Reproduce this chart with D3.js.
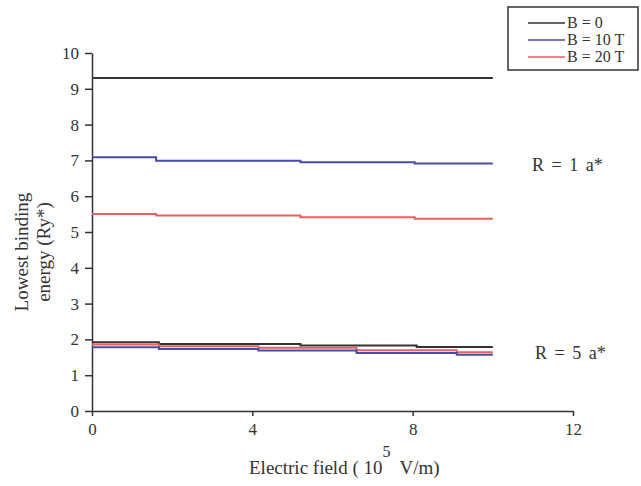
<!DOCTYPE html>
<html>
<head>
<meta charset="utf-8">
<script src="https://cdn.jsdelivr.net/npm/d3@7"></script>
<style>
  body { margin: 0; background: #fff; }
  text { font-family: "Liberation Serif", "Times New Roman", serif; fill: #333; }
</style>
</head>
<body>
<div id="chart"></div>
<script>
// Datos
const xTicks = [0, 4, 8, 12]
const yTicks = [0, 1, 2, 3, 4, 5, 6, 7, 8, 9, 10]

// R = 1 a*
const xR1Black = [0, 10]
const yR1Black = [9.3, 9.3]
const xR1 = [0, 1.6, 5.2, 8.05, 10]
const yR1Blue = [7.09, 6.99, 6.95, 6.91, 6.91]
const yR1Red = [5.50, 5.46, 5.41, 5.37, 5.37]

// R = 5 a*
const xR5Black = [0, 1.67, 5.2, 8.1, 10]
const yR5Black = [1.92, 1.87, 1.83, 1.79, 1.79]
const xR5 = [0, 1.67, 4.15, 6.6, 9.1, 10]
const yR5Red = [1.86, 1.81, 1.77, 1.70, 1.64, 1.64]
const yR5Blue = [1.78, 1.73, 1.69, 1.62, 1.57, 1.57]

const legendLabels = ["B = 0", "B = 10 T", "B = 20 T"]
const colors = ["#333333", "#4b4ba6", "#e26262"]

// Constantes
const width = 641
const height = 486
const margins = { top: 53, bottom: 75, left: 92, right: 68 }

const svg = d3.select("#chart").append("svg").attr("width", width).attr("height", height)

const x = d3.scaleLinear().domain([0, 12]).range([margins.left, width - margins.right])
const y = d3.scaleLinear().domain([0, 10]).range([height - margins.bottom, margins.top])

// Ejes
const xAxis = d3.axisBottom(x).tickValues(xTicks).tickSize(5).tickSizeOuter(0).tickPadding(7)
const yAxis = d3.axisLeft(y).tickValues(yTicks).tickSize(7).tickSizeOuter(0).tickPadding(6)

const gx = svg.append("g").attr("transform", `translate(0,${y(0)})`).call(xAxis)
const gy = svg.append("g").attr("transform", `translate(${x(0)},0)`).call(yAxis)

for (const g of [gx, gy]) {
    g.attr("font-family", null)
    g.selectAll("path, line").attr("stroke", "#333").attr("stroke-width", 1.5)
    g.selectAll("text").attr("font-size", 17).attr("fill", "#333")
}

// Series
const series = [
    { xs: xR1Black, ys: yR1Black, c: colors[0] },
    { xs: xR1, ys: yR1Blue, c: colors[1] },
    { xs: xR1, ys: yR1Red, c: colors[2] },
    { xs: xR5Black, ys: yR5Black, c: colors[0] },
    { xs: xR5, ys: yR5Red, c: colors[2] },
    { xs: xR5, ys: yR5Blue, c: colors[1] }
]

const line = d3.line().x(d => x(d[0])).y(d => y(d[1])).curve(d3.curveStepAfter)

series.forEach(s => {
    svg.append("path")
        .datum(s.xs.map((v, i) => [v, s.ys[i]]))
        .attr("d", line)
        .attr("fill", "none")
        .attr("stroke", s.c)
        .attr("stroke-width", 2)
})

// Anotaciones
svg.append("text").attr("x", 532).attr("y", 171).attr("font-size", 18)
    .attr("word-spacing", 3).text("R = 1 a*")
svg.append("text").attr("x", 535).attr("y", 359).attr("font-size", 18)
    .attr("word-spacing", 3).text("R = 5 a*")

// Titulos de ejes
const yTitle = svg.append("text")
    .attr("transform", `translate(28,252) rotate(-90)`)
    .attr("text-anchor", "middle")
    .attr("font-size", 19)
yTitle.append("tspan").attr("x", 0).attr("dy", 0).text("Lowest binding")
yTitle.append("tspan").attr("x", 0).attr("dy", 22).text("energy (Ry*)")

const xTitle = svg.append("text").attr("x", 249).attr("y", 474).attr("font-size", 19)
xTitle.append("tspan").text("Electric field ( 10")
xTitle.append("tspan").attr("dy", -17).attr("font-size", 16).text("5")
xTitle.append("tspan").attr("dy", 17).attr("dx", 9).text("V/m)")

// Leyenda
const legend = svg.append("g")
legend.append("rect")
    .attr("x", 508).attr("y", 7).attr("width", 130).attr("height", 63)
    .attr("fill", "#fff").attr("stroke", "#333").attr("stroke-width", 1.5)

legendLabels.forEach((lab, i) => {
    const yy = 23 + i * 17
    legend.append("line")
        .attr("x1", 528).attr("x2", 565).attr("y1", yy).attr("y2", yy)
        .attr("stroke", colors[i]).attr("stroke-width", 1.5)
    legend.append("text")
        .attr("x", 567).attr("y", yy + 5).attr("font-size", 16)
        .text(lab)
})
</script>
</body>
</html>
